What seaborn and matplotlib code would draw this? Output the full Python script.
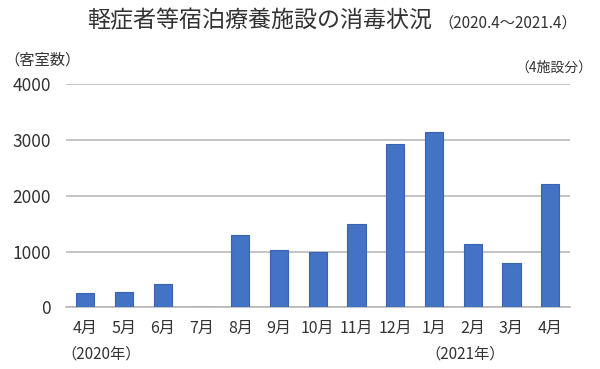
import matplotlib
matplotlib.use("Agg")
import matplotlib.pyplot as plt
import seaborn as sns
import pandas as pd

months = ["4月", "5月", "6月", "7月", "8月", "9月", "10月", "11月", "12月", "1月", "2月", "3月", "4月"]
keys = ["2020-04", "2020-05", "2020-06", "2020-07", "2020-08", "2020-09", "2020-10",
        "2020-11", "2020-12", "2021-01", "2021-02", "2021-03", "2021-04"]
rooms = [262, 268, 412, 0, 1290, 1027, 986, 1487, 2921, 3142, 1129, 789, 2204]
yticks = [0, 1000, 2000, 3000, 4000]

title = "軽症者等宿泊療養施設の消毒状況"
subtitle = "（2020.4～2021.4）"
ylabel = "（客室数）"
note = "（4施設分）"
year_labels = ["（2020年）", "（2021年）"]

sns.set_theme(style="white")
plt.rcParams["font.family"] = ["Noto Sans CJK JP", "DejaVu Sans"]

text_color = "#333333"
grid_color = "#b4b4b4"

W, H = 600, 369
fig = plt.figure(figsize=(6, 3.69), dpi=100)
left, right, top, bottom = 66, 569.5, 84.3, 307.3
ax = fig.add_axes([left / W, 1 - bottom / H, (right - left) / W, (bottom - top) / H])

df = pd.DataFrame({"key": keys, "rooms": rooms})
sns.barplot(data=df, x="key", y="rooms", order=keys, color="#4472C4", saturation=1,
            width=0.47, edgecolor="#3A64B0", linewidth=0.8, ax=ax, zorder=3)

ax.set_ylim(0, 4000)
ax.set_xlim(-0.5, len(keys) - 0.5)
ax.set_yticks(yticks)
ax.set_yticklabels([str(v) for v in yticks], fontsize=12.5, color=text_color)
ax.set_xticks(range(len(keys)))
ax.set_xticklabels(months, fontsize=11.5, color=text_color)
ax.tick_params(axis="x", length=0, pad=9)
ax.tick_params(axis="y", length=0, pad=11)
ax.set_xlabel("")
ax.set_ylabel("")
ax.yaxis.grid(True, color=grid_color, linewidth=1.1, zorder=0)
ax.set_axisbelow(True)
for s in ["top", "right", "left"]:
    ax.spines[s].set_visible(False)
ax.spines["bottom"].set_color(grid_color)
ax.spines["bottom"].set_linewidth(1.1)

def px(x, y):
    return x / W, 1 - y / H

fig.text(*px(87, 21), title, fontsize=16.6, color=text_color, ha="left", va="center")
fig.text(*px(438, 23), subtitle, fontsize=11, color=text_color, ha="left", va="center")
fig.text(*px(4, 60), ylabel, fontsize=11, color=text_color, ha="left", va="center")
fig.text(*px(592, 68), note, fontsize=10, color=text_color, ha="right", va="center")
fig.text(*px(101, 354), year_labels[0], fontsize=11, color=text_color, ha="center", va="center")
fig.text(*px(465, 354), year_labels[1], fontsize=11, color=text_color, ha="center", va="center")

fig.savefig("out.png", dpi=100, facecolor="white")
